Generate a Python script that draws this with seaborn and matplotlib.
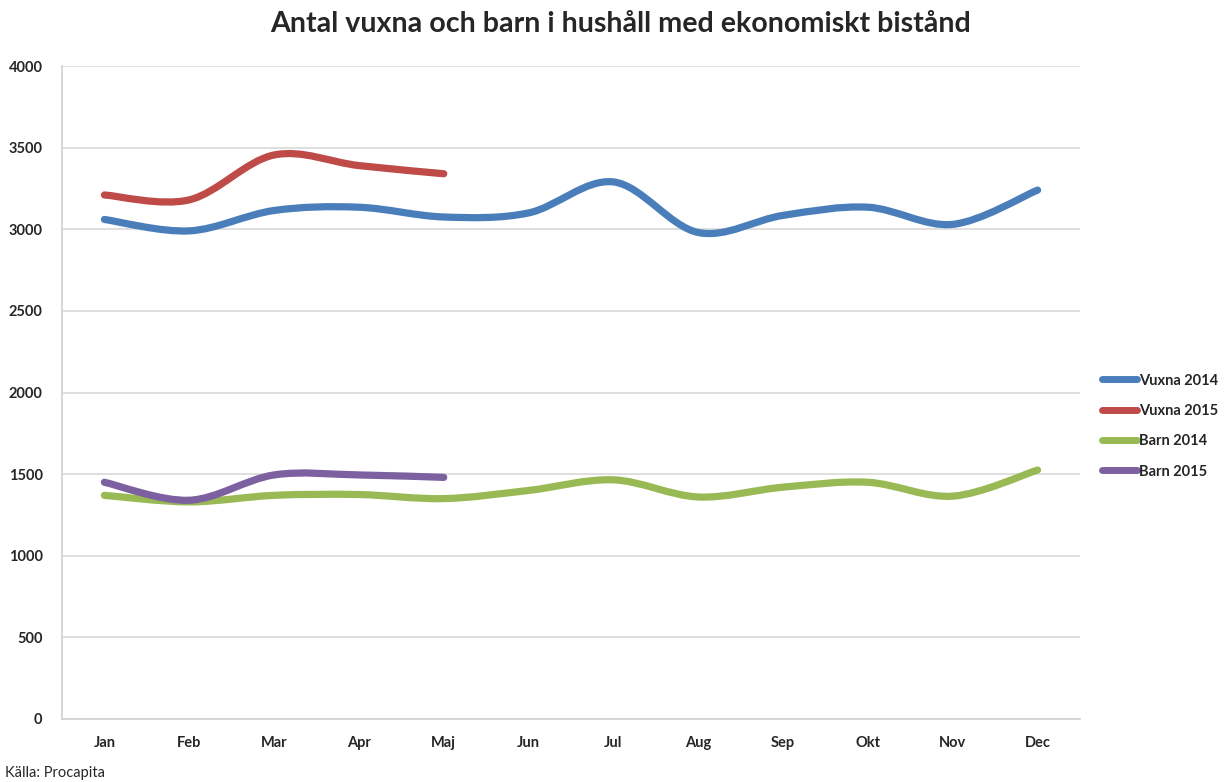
import numpy as np
import pandas as pd
import matplotlib
matplotlib.use("Agg")
import matplotlib.pyplot as plt
import seaborn as sns
from matplotlib.path import Path
from matplotlib.patches import PathPatch
from matplotlib.lines import Line2D

months = ["Jan", "Feb", "Mar", "Apr", "Maj", "Jun", "Jul", "Aug", "Sep", "Okt", "Nov", "Dec"]
vuxna_2014 = [3060, 2990, 3115, 3135, 3075, 3100, 3290, 2980, 3085, 3135, 3030, 3240]
vuxna_2015 = [3210, 3180, 3455, 3390, 3340]
barn_2014 = [1370, 1330, 1370, 1375, 1350, 1400, 1465, 1360, 1420, 1450, 1365, 1525]
barn_2015 = [1450, 1340, 1495, 1495, 1480]
series_names = ["Vuxna 2014", "Vuxna 2015", "Barn 2014", "Barn 2015"]
y_ticks = [0, 500, 1000, 1500, 2000, 2500, 3000, 3500, 4000]

title = "Antal vuxna och barn i hushåll med ekonomiskt bistånd"
source = "Källa: Procapita"
colors = ["#4A7EBB", "#BE4B48", "#98B954", "#7D60A0"]

sns.set_theme(style="white")
plt.rcParams["font.family"] = ["Lato", "DejaVu Sans"]

rows = []
for name, vals in zip(series_names, [vuxna_2014, vuxna_2015, barn_2014, barn_2015]):
    for i, v in enumerate(vals):
        rows.append({"idx": i, "month": months[i], "value": v, "series": name})
df = pd.DataFrame(rows)

fig = plt.figure(figsize=(12.25, 7.82), dpi=100)
ax = fig.add_axes([62 / 1225, 1 - 719 / 782, (1080 - 62) / 1225, (719 - 66) / 782])

sns.lineplot(data=df, x="idx", y="value", hue="series", hue_order=series_names,
             palette=colors, linewidth=5, legend=False, ax=ax, sort=False)

# Replace straight segments by Excel-like smoothed (Bezier) curves through the same data
for line, col in zip(list(ax.lines), colors):
    xy = np.column_stack(line.get_data()).astype(float)
    n = len(xy)
    verts = [xy[0]]
    codes = [Path.MOVETO]
    for i in range(n - 1):
        p_prev = xy[i - 1] if i > 0 else xy[i]
        p_next2 = xy[i + 2] if i + 2 < n else xy[i + 1]
        c1 = xy[i] + (xy[i + 1] - p_prev) / 6.0
        c2 = xy[i + 1] - (p_next2 - xy[i]) / 6.0
        verts += [c1, c2, xy[i + 1]]
        codes += [Path.CURVE4] * 3
    patch = PathPatch(Path(verts, codes), facecolor="none", edgecolor=col,
                      linewidth=5.2, capstyle="round", joinstyle="round", zorder=3)
    ax.add_patch(patch)
    line.set_visible(False)

ax.set_xlim(-0.5, 11.5)
ax.set_ylim(0, 4000)
ax.set_xticks(range(len(months)))
ax.set_xticklabels(months, fontsize=10.5, fontweight="bold")
ax.set_yticks(y_ticks)
ax.set_yticklabels([str(t) for t in y_ticks], fontsize=10.5, fontweight="bold")
ax.tick_params(axis="x", length=0, pad=12)
ax.tick_params(axis="y", length=0, pad=14)
ax.set_xlabel("")
ax.set_ylabel("")
ax.grid(axis="y", color="#D9D9D9", linewidth=1.2)
ax.set_axisbelow(True)
for s in ["top", "right"]:
    ax.spines[s].set_visible(False)
for s in ["left", "bottom"]:
    ax.spines[s].set_color("#D0D0D0")
    ax.spines[s].set_linewidth(1.2)

handles = [Line2D([0], [0], color=c, linewidth=5, solid_capstyle="round") for c in colors]
fig.legend(handles, series_names, loc="center left", bbox_to_anchor=(1102 / 1225, 1 - 426 / 782),
           frameon=False, borderpad=0, borderaxespad=0, handlelength=2.4, handletextpad=0.12,
           labelspacing=1.12, prop={"size": 10.5, "weight": "bold"})

fig.text(621 / 1225, 1 - 24 / 782, title, ha="center", va="center", fontsize=20.6, fontweight="bold")
fig.text(5 / 1225, 1 - 773 / 782, source, ha="left", va="center", fontsize=10.5)

fig.savefig("out.png", dpi=100)
